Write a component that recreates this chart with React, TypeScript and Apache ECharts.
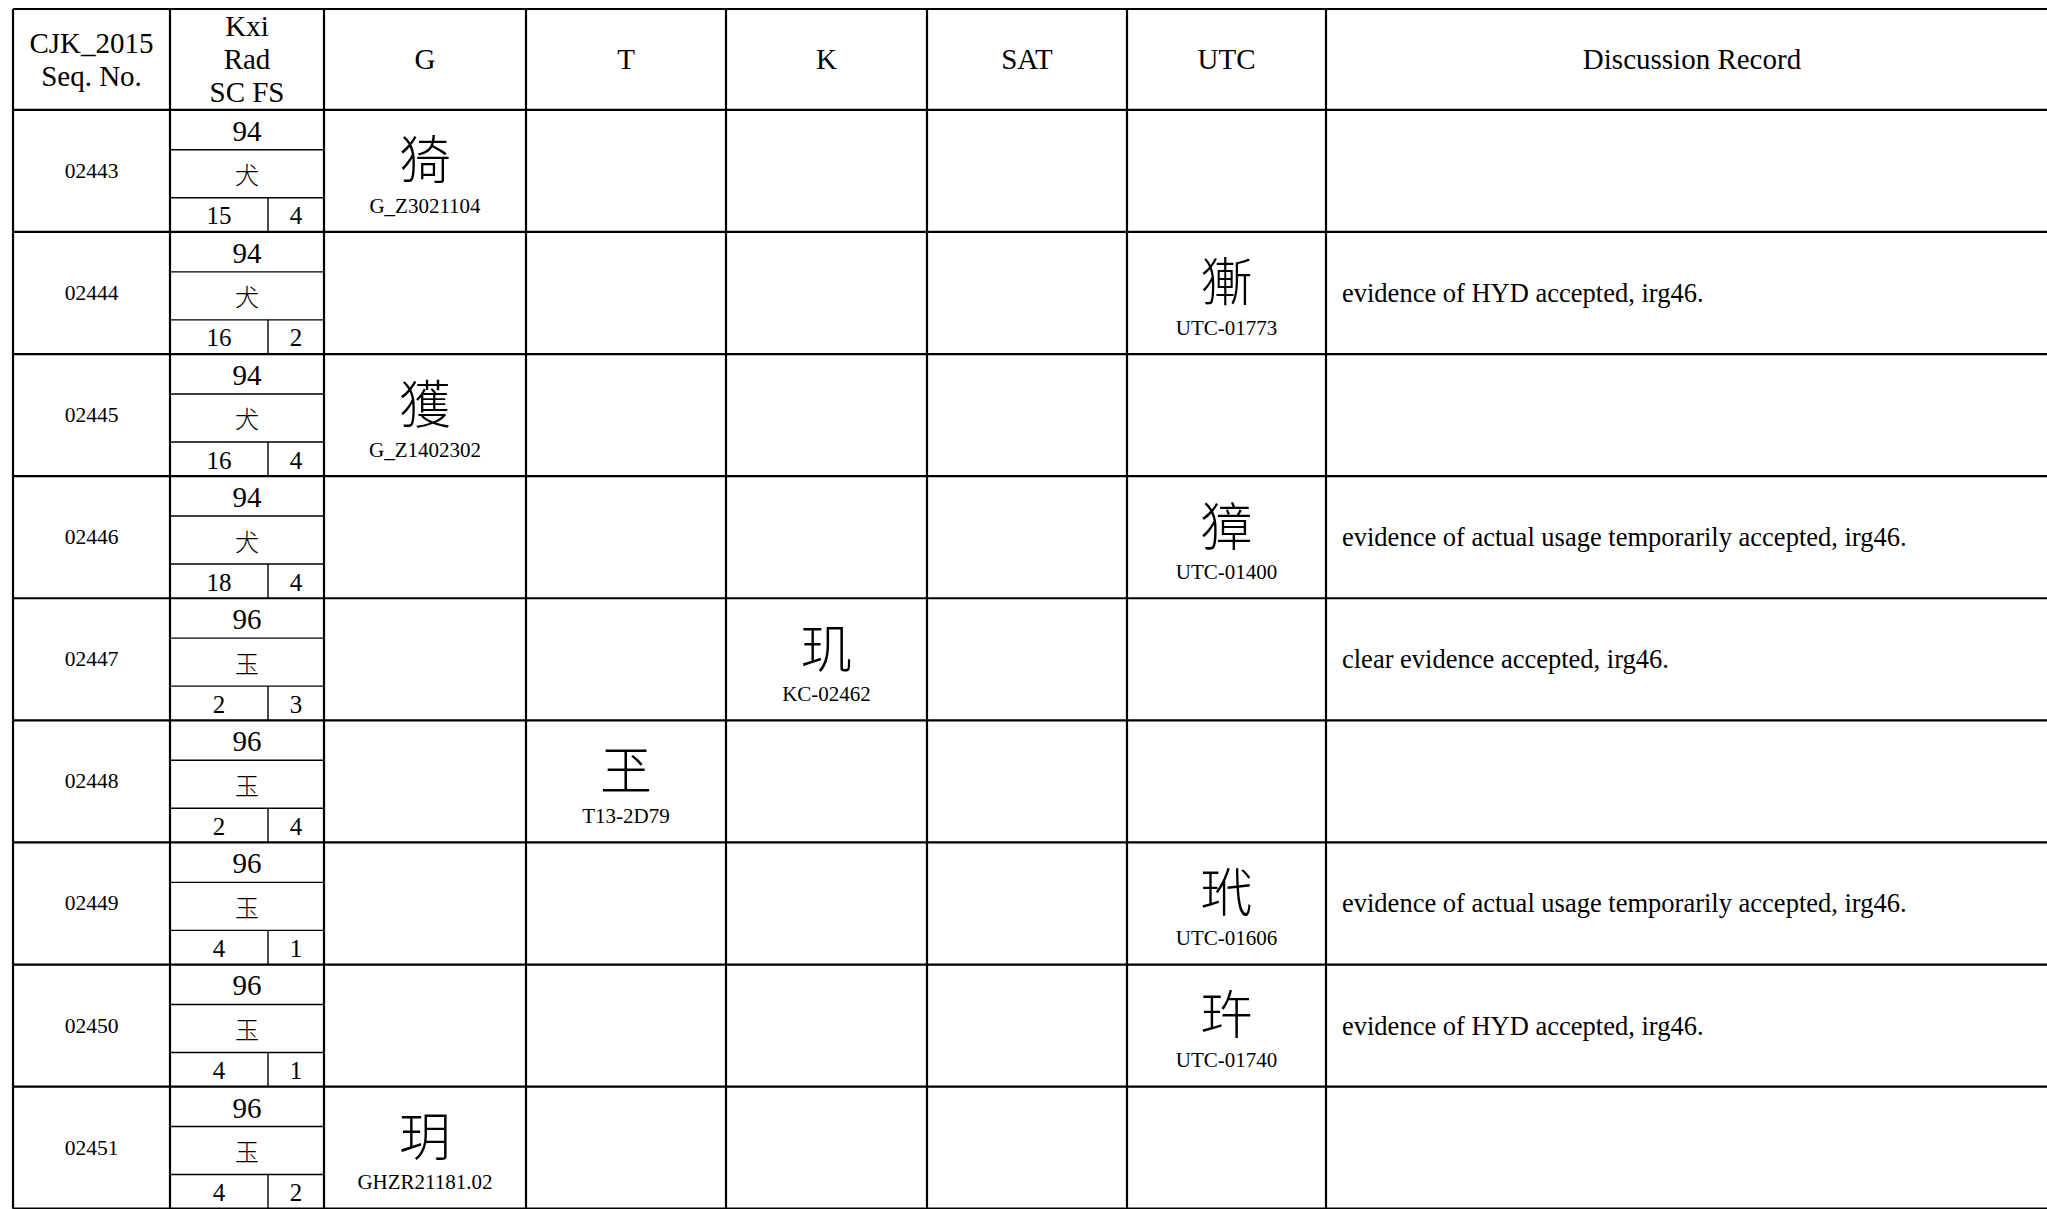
import React, { useEffect, useRef } from "react";
import * as echarts from "echarts";

// ---- data ----
const headers = ["CJK_2015\nSeq. No.", "Kxi\nRad\nSC FS", "G", "T", "K", "SAT", "UTC", "Discussion Record"];
const seqNos = ["02443", "02444", "02445", "02446", "02447", "02448", "02449", "02450", "02451"];
const radicalNums = ["94", "94", "94", "94", "96", "96", "96", "96", "96"];
const radicalChars = ["犬", "犬", "犬", "犬", "玉", "玉", "玉", "玉", "玉"];
const strokeCounts = ["15", "16", "16", "18", "2", "2", "4", "4", "4"];
const firstStrokes = ["4", "2", "4", "4", "3", "4", "1", "1", "2"];
// source column: 2=G, 3=T, 4=K, 5=SAT, 6=UTC
const sourceCols = [2, 6, 2, 6, 4, 3, 6, 6, 2];
const glyphs = ["猗", "獑", "獲", "獐", "玑", "玊", "玳", "玝", "玥"];
const sourceRefs = ["G_Z3021104", "UTC-01773", "G_Z1402302", "UTC-01400", "KC-02462", "T13-2D79", "UTC-01606", "UTC-01740", "GHZR21181.02"];
const discussion = [
  "",
  "evidence of HYD accepted, irg46.",
  "",
  "evidence of actual usage temporarily accepted, irg46.",
  "clear evidence accepted, irg46.",
  "",
  "evidence of actual usage temporarily accepted, irg46.",
  "evidence of HYD accepted, irg46.",
  "",
];

// ---- layout (px on x axis, row units on y axis) ----
const W = 2047;
const H = 1209;
const colEdges = [13, 170, 324, 526, 726, 927, 1127, 1326];
const rightEdge = 2058;
const kxiSplit = 268;
const headerUnits = 0.826;
const rowPx = 122.3;
const tableTop = 9;

const SERIF = "'Liberation Serif', 'Times New Roman', serif";
const CJK = "'Noto Sans CJK SC', 'Noto Sans CJK TC', sans-serif";
const MAIN_W = 2.2;
const SUB_W = 1.4;
const INK = "#000";

function line(x1: number, y1: number, x2: number, y2: number, w: number) {
  return { type: "line", shape: { x1, y1, x2, y2 }, style: { stroke: INK, lineWidth: w }, silent: true };
}
function txt(
  x: number,
  y: number,
  text: string,
  fontSize: number,
  family: string,
  align = "center",
  lineHeight?: number,
  fontWeight: any = "normal"
) {
  return {
    type: "text",
    x,
    y,
    silent: true,
    style: {
      text,
      fill: INK,
      fontSize,
      fontFamily: family,
      fontWeight,
      align,
      verticalAlign: "middle",
      lineHeight: lineHeight ?? Math.round(fontSize * 1.1),
    },
  };
}
function colCenter(api: any, c: number, yv: number) {
  const a = api.coord([colEdges[c], yv])[0];
  const b = api.coord([c + 1 < colEdges.length ? colEdges[c + 1] : rightEdge, yv])[0];
  return (a + b) / 2;
}

function renderHeader(_params: any, api: any) {
  const top = api.coord([0, -headerUnits])[1];
  const bot = api.coord([0, 0])[1];
  const xL = api.coord([colEdges[0], 0])[0];
  const xR = api.coord([rightEdge, 0])[0];
  const children: any[] = [];
  children.push(line(xL, top, xR, top, MAIN_W));
  children.push(line(xL, bot, xR, bot, MAIN_W));
  colEdges.forEach((e) => {
    const x = api.coord([e, 0])[0];
    children.push(line(x, top, x, bot, MAIN_W));
  });
  const cy = (top + bot) / 2;
  headers.forEach((h, c) => {
    children.push(txt(colCenter(api, c, 0), cy, h, 29, SERIF, "center", 33));
  });
  return { type: "group", children };
}

function renderRow(params: any, api: any) {
  const i = api.value(0);
  const y = (f: number) => api.coord([0, i + f])[1];
  const x = (v: number) => api.coord([v, i])[0];
  const top = y(0);
  const bot = y(1);
  const children: any[] = [];
  children.push(line(x(colEdges[0]), bot, x(rightEdge), bot, MAIN_W));
  colEdges.forEach((e) => children.push(line(x(e), top, x(e), bot, MAIN_W)));
  // Kxi sub cells
  const s1 = y(0.327);
  const s2 = y(0.72);
  children.push(line(x(colEdges[1]), s1, x(colEdges[2]), s1, SUB_W));
  children.push(line(x(colEdges[1]), s2, x(colEdges[2]), s2, SUB_W));
  children.push(line(x(kxiSplit), s2, x(kxiSplit), bot, SUB_W));

  const idx = params.dataIndex;
  children.push(txt(colCenter(api, 0, i), (top + bot) / 2, seqNos[idx], 21.5, SERIF));
  const kc = colCenter(api, 1, i);
  children.push(txt(kc, (top + s1) / 2 + 1, radicalNums[idx], 29, SERIF, "center", 30));
  children.push(txt(kc, (s1 + s2) / 2, radicalChars[idx], 24, CJK, "center", 26, 300));
  children.push(txt((x(colEdges[1]) + x(kxiSplit)) / 2, (s2 + bot) / 2 + 1, strokeCounts[idx], 25, SERIF, "center", 26));
  children.push(txt((x(kxiSplit) + x(colEdges[2])) / 2, (s2 + bot) / 2 + 1, firstStrokes[idx], 25, SERIF, "center", 26));

  const sc = sourceCols[idx];
  const gx = colCenter(api, sc, i);
  children.push(txt(gx, y(0.385), glyphs[idx], 52, CJK, "center", 52, 300));
  children.push(txt(gx, y(0.785), sourceRefs[idx], 21, SERIF, "center", 21));

  if (discussion[idx]) {
    children.push(txt(x(colEdges[7]) + 16, (top + bot) / 2, discussion[idx], 26.5, SERIF, "left"));
  }
  return { type: "group", children };
}

export default function App() {
  const ref = useRef<HTMLDivElement>(null);
  useEffect(() => {
    document.body.style.margin = "0";
    document.body.style.overflow = "hidden";
    if (!ref.current) return;
    const chart = echarts.init(ref.current, undefined, { renderer: "svg" });
    const maxUnits = (H + 2 - tableTop) / rowPx - headerUnits;
    chart.setOption({
      animation: false,
      backgroundColor: "#fff",
      grid: { left: 0, width: W, top: tableTop, height: (maxUnits + headerUnits) * rowPx },
      xAxis: { type: "value", min: 0, max: W, show: false },
      yAxis: { type: "value", inverse: true, min: -headerUnits, max: maxUnits, show: false },
      series: [
        {
          type: "custom",
          silent: true,
          clip: false,
          renderItem: renderHeader,
          data: [[-headerUnits]],
        },
        {
          type: "custom",
          silent: true,
          clip: false,
          renderItem: renderRow,
          data: seqNos.map((_, i) => [i]),
        },
      ],
    });
    return () => chart.dispose();
  }, []);
  return <div ref={ref} style={{ width: W, height: H }} />;
}
